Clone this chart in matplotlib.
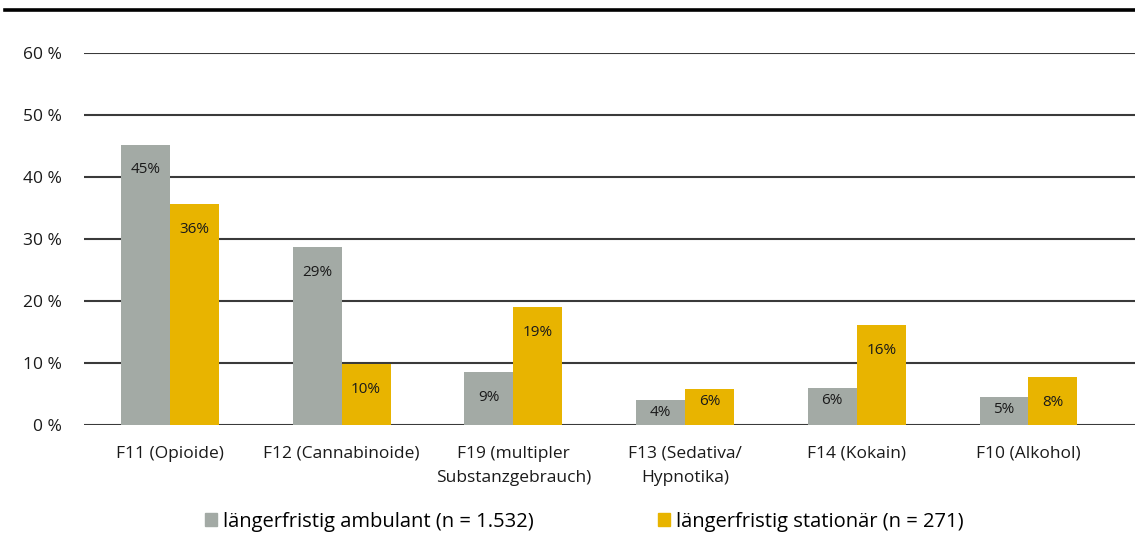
import numpy as np
import matplotlib.pyplot as plt
from matplotlib.lines import Line2D

plt.rcParams['font.family'] = ['Open Sans', 'DejaVu Sans']

categories = ['F11 (Opioide)', 'F12 (Cannabinoide)', 'F19 (multipler\nSubstanzgebrauch)',
              'F13 (Sedativa/\nHypnotika)', 'F14 (Kokain)', 'F10 (Alkohol)']
ambulant = [45.2, 28.7, 8.5, 4.0, 6.0, 4.5]
stationaer = [35.6, 9.8, 19.0, 5.8, 16.1, 7.7]
ambulant_labels = ['45%', '29%', '9%', '4%', '6%', '5%']
stationaer_labels = ['36%', '10%', '19%', '6%', '16%', '8%']
series_names = ['längerfristig ambulant (n = 1.532)', 'längerfristig stationär (n = 271)']
yticks = [0, 10, 20, 30, 40, 50, 60]

c_gray = '#a3aaa5'
c_yellow = '#e8b400'

fig = plt.figure(figsize=(11.35, 5.55), dpi=100)
ax = fig.add_axes([0.074, 0.234, 0.932, 0.6705])

x = np.arange(len(categories))
w = 0.285
b1 = ax.bar(x - w/2, ambulant, w, color=c_gray, zorder=3)
b2 = ax.bar(x + w/2, stationaer, w, color=c_yellow, zorder=3)

for bars, labels in ((b1, ambulant_labels), (b2, stationaer_labels)):
    for bar, lab in zip(bars, labels):
        h = bar.get_height()
        off = -18 if h >= 7 else -9   # small bars: label sits lower in the bar
        ax.annotate(lab, (bar.get_x() + bar.get_width()/2, h), xytext=(0, off),
                    textcoords='offset points', ha='center', va='center',
                    fontsize=11, color='#1a1a1a', zorder=4)

ax.set_ylim(0, 60)
ax.set_xlim(-0.5, 5.66)
ax.set_yticks(yticks)
ax.set_yticklabels([f'{t} %' for t in yticks], fontsize=12.5, color='#1a1a1a')
ax.set_xticks(x)
ax.set_xticklabels(categories, fontsize=12.5, color='#1a1a1a', linespacing=1.65)
ax.tick_params(length=0, axis='y', pad=16)
ax.tick_params(length=0, axis='x', pad=15)
ax.grid(axis='y', color='#3a3a3a', linewidth=1.5, zorder=1)
ax.set_axisbelow(True)
for s in ax.spines.values():
    s.set_visible(False)

# heavy rule across the top
fig.add_artist(Line2D([0.004, 1.0], [0.982, 0.982], color='black', linewidth=2.6,
                      transform=fig.transFigure))

handles = [plt.Rectangle((0, 0), 1, 1, color=c_gray), plt.Rectangle((0, 0), 1, 1, color=c_yellow)]
fig.legend(handles, series_names, loc='center left', bbox_to_anchor=(0.172, 0.06),
           ncol=2, frameon=False, fontsize=14.5, handlelength=0.6, handleheight=0.65,
           handletextpad=0.3, columnspacing=6.15, borderpad=0)

plt.savefig('out.png', dpi=100)
